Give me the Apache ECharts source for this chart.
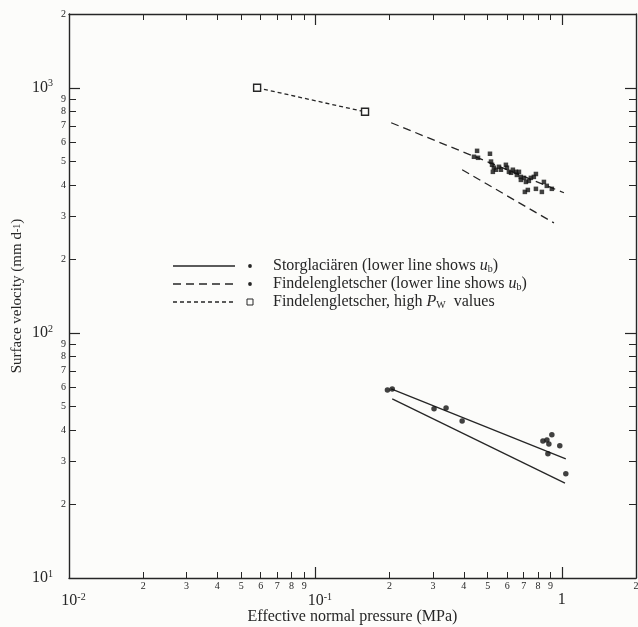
<!DOCTYPE html>
<html><head><meta charset="utf-8">
<script src="https://cdn.jsdelivr.net/npm/echarts@6/dist/echarts.min.js"></script>
<style>html,body{margin:0;padding:0;background:#fcfcfa}#c{width:638px;height:627px}</style>
</head><body><div id="c"></div>
<script>
// ---- tick values / labels ----
const xMinor = [0.02,0.03,0.04,0.05,0.06,0.07,0.08,0.09,0.2,0.3,0.4,0.5,0.6,0.7,0.8,0.9];
const xMinorLabels = xMinor.concat([2]);
const xDecadeTicks = [0.1, 1];
const xDecadeLabels = [0.01, 0.1, 1];
const yMinor = [20,30,40,50,60,70,80,90,200,300,400,500,600,700,800,900];
const yMinorLabels = yMinor.concat([2000]);
const yDecadeTicks = [100, 1000];
const yDecadeLabels = [10, 100, 1000];

// ---- data (effective normal pressure MPa, surface velocity mm/d) ----
const storPoints = [[0.196,58.5],[0.205,59.1],[0.303,49.0],[0.339,49.4],[0.394,43.7],[0.838,36.2],[0.870,36.6],[0.911,38.4],[0.886,35.2],[0.981,34.6],[0.878,32.1],[1.038,26.6]];
const storUpper = [[0.203,59.1],[1.038,30.6]];
const storLower = [[0.205,53.8],[1.03,24.4]];
const findPoints = [[0.453,553],[0.457,518],[0.440,523],[0.511,538],[0.516,500],[0.521,485],[0.530,472],[0.525,454],[0.540,463],[0.556,476],[0.566,463],[0.593,485],[0.599,472],[0.610,454],[0.622,450],[0.633,463],[0.651,454],[0.657,441],[0.670,454],[0.682,433],[0.682,421],[0.702,429],[0.715,413],[0.735,417],[0.749,429],[0.770,433],[0.785,445],[0.708,376],[0.728,383],[0.785,387],[0.830,376],[0.846,413],[0.869,398],[0.911,387]];
const findUpper = [[0.203,720],[1.02,373]];
const findLower = [[0.394,463],[0.929,281]];
const highPw = [[0.058,1000],[0.159,798]];

const FONT = "'Liberation Serif','DejaVu Serif',serif";
const INK = '#262626';
const axisLineStyle = {color: INK, width: 1.4};

function digit(v){ const e = Math.floor(Math.log10(v) + 1e-9); return String(Math.round(v / Math.pow(10, e))); }
function xDec(v){ const e = Math.round(Math.log10(v)); return e === 0 ? '{b|1}' : '{bp|10}{s|' + e + '}'; }
function yDec(v){ const e = Math.round(Math.log10(v)); return '{b|10}{s|' + e + '}'; }
const decRich = {
  b: {fontSize: 16, fontFamily: FONT, color: INK},
  bp: {fontSize: 16, fontFamily: FONT, color: INK, padding: [0,0,0,9]},
  s: {fontSize: 10, fontFamily: FONT, color: INK, padding: [0,0,8,0]}
};

function logAxis(min, max, pos, o){
  return Object.assign({
    type: 'log', logBase: 10, min: min, max: max, position: pos, gridIndex: 0,
    axisLine: {show: false, onZero: false, lineStyle: axisLineStyle},
    axisTick: {show: false},
    axisLabel: {show: false},
    splitLine: {show: false},
    minorTick: {show: false}
  }, o);
}

const xAxes = [
  logAxis(0.01, 2, 'bottom', {
    axisLine: {show: true, onZero: false, lineStyle: axisLineStyle},
    axisTick: {show: true, inside: true, length: 6, customValues: xMinor, lineStyle: {color: INK, width: 1}},
    axisLabel: {show: true, customValues: xMinorLabels, formatter: digit, fontSize: 10, margin: 3, color: INK, fontFamily: FONT, hideOverlap: false},
    name: 'Effective normal pressure (MPa)', nameLocation: 'middle', nameGap: 31,
    nameTextStyle: {fontSize: 16, fontFamily: FONT, color: INK}
  }),
  logAxis(0.01, 2, 'bottom', {
    axisTick: {show: true, inside: true, length: 11, customValues: xDecadeTicks, lineStyle: {color: INK, width: 1.2}},
    axisLabel: {show: true, customValues: xDecadeLabels, formatter: xDec, margin: 14, rich: decRich, hideOverlap: false}
  }),
  logAxis(0.01, 2, 'top', {
    axisLine: {show: true, onZero: false, lineStyle: axisLineStyle},
    axisTick: {show: true, inside: true, length: 6, customValues: xMinor, lineStyle: {color: INK, width: 1}}
  }),
  logAxis(0.01, 2, 'top', {
    axisTick: {show: true, inside: true, length: 11, customValues: xDecadeTicks, lineStyle: {color: INK, width: 1.2}}
  })
];
const yAxes = [
  logAxis(10, 2000, 'left', {
    axisLine: {show: true, onZero: false, lineStyle: axisLineStyle},
    axisTick: {show: true, inside: true, length: 7, customValues: yMinor, lineStyle: {color: INK, width: 1}},
    axisLabel: {show: true, customValues: yMinorLabels, formatter: digit, fontSize: 10, margin: 3, color: INK, fontFamily: FONT, hideOverlap: false},
    name: 'Surface velocity (mm d{s|-1})', nameLocation: 'middle', nameGap: 44, nameRotate: 90,
    nameTextStyle: {fontSize: 15, fontFamily: FONT, color: INK, rich: {s: {fontSize: 10, fontFamily: FONT, color: INK}}}
  }),
  logAxis(10, 2000, 'left', {
    axisTick: {show: true, inside: true, length: 11, customValues: yDecadeTicks, lineStyle: {color: INK, width: 1.2}},
    axisLabel: {show: true, customValues: yDecadeLabels, formatter: yDec, margin: 16, rich: decRich, hideOverlap: false}
  }),
  logAxis(10, 2000, 'right', {
    axisLine: {show: true, onZero: false, lineStyle: axisLineStyle},
    axisTick: {show: true, inside: true, length: 7, customValues: yMinor, lineStyle: {color: INK, width: 1}}
  }),
  logAxis(10, 2000, 'right', {
    axisTick: {show: true, inside: true, length: 11, customValues: yDecadeTicks, lineStyle: {color: INK, width: 1.2}}
  })
];

function fitLine(data, dash){
  return {type: 'line', data: data, showSymbol: false, symbol: 'none', silent: true, z: 2,
    lineStyle: {color: INK, width: 1.3, type: dash}};
}

const legendRich = {
  it: {fontStyle: 'italic', fontSize: 16, fontFamily: FONT, fill: INK},
  sub: {fontSize: 10, fontFamily: FONT, fill: INK, padding: [7,0,0,0]}
};
function legendText(y, txt){
  return {type: 'text', x: 273, y: y, style: {text: txt, fontSize: 16, fontFamily: FONT, fill: INK, verticalAlign: 'middle', rich: legendRich}};
}

const chart = echarts.init(document.getElementById('c'), null, {renderer: 'canvas'});
chart.setOption({
  animation: false,
  backgroundColor: '#fcfcfa',
  grid: {left: 69, right: 2, top: 14, bottom: 49, containLabel: false, outerBoundsMode: 'none'},
  xAxis: xAxes,
  yAxis: yAxes,
  series: [
    fitLine(storUpper, 'solid'),
    fitLine(storLower, 'solid'),
    fitLine(findUpper, [8,5]),
    fitLine(findLower, [8,5]),
    {type: 'line', data: highPw, symbol: 'rect', symbolSize: 7, showSymbol: true, z: 3,
      lineStyle: {color: INK, width: 1.3, type: [4,3]},
      itemStyle: {color: '#fcfcfa', borderColor: INK, borderWidth: 1.4}},
    {type: 'scatter', data: storPoints, symbol: 'circle', symbolSize: 5.5, itemStyle: {color: '#111'}, z: 4},
    {type: 'scatter', data: findPoints, symbol: 'rect', symbolSize: 4.5, itemStyle: {color: '#111'}, z: 4}
  ],
  graphic: [
    {type: 'line', shape: {x1: 173, y1: 266, x2: 235, y2: 266}, style: {stroke: INK, lineWidth: 1.3}},
    {type: 'circle', shape: {cx: 250, cy: 266, r: 1.9}, style: {fill: INK}},
    legendText(266, 'Storglaciären (lower line shows {it|u}{sub|b})'),
    {type: 'line', shape: {x1: 173, y1: 284, x2: 235, y2: 284}, style: {stroke: INK, lineWidth: 1.3, lineDash: [8,5]}},
    {type: 'circle', shape: {cx: 250, cy: 284, r: 1.9}, style: {fill: INK}},
    legendText(284, 'Findelengletscher (lower line shows {it|u}{sub|b})'),
    {type: 'line', shape: {x1: 173, y1: 302, x2: 235, y2: 302}, style: {stroke: INK, lineWidth: 1.3, lineDash: [4,3]}},
    {type: 'rect', shape: {x: 247, y: 299, width: 6, height: 6}, style: {fill: '#fcfcfa', stroke: INK, lineWidth: 1}},
    legendText(302, 'Findelengletscher, high {it|P}{sub|W}  values')
  ]
});
</script></body></html>
